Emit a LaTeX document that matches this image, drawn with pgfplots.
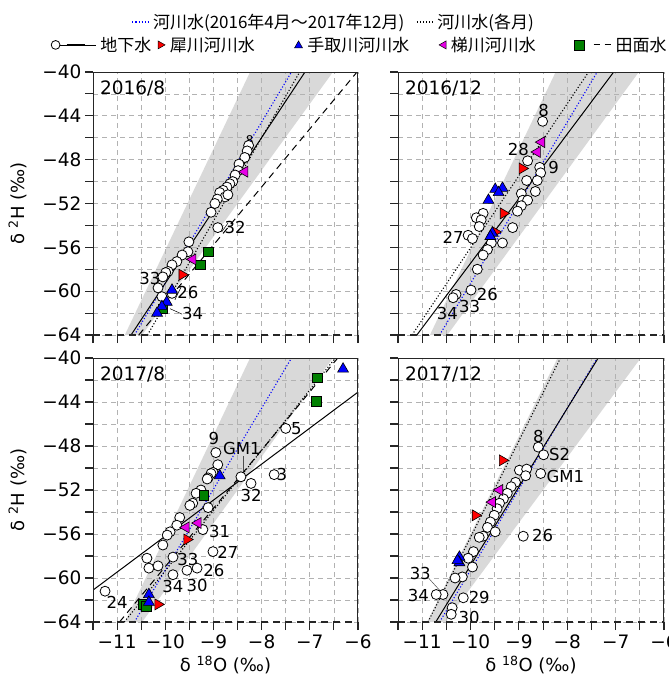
\documentclass[border=0pt]{standalone}
\usepackage{fontspec}
\setmainfont{DejaVu Sans}
\newfontfamily\jp{Noto Sans CJK JP}
\usepackage{pgfplots}
\pgfplotsset{compat=1.18}
\definecolor{dgreen}{RGB}{0,128,0}
\definecolor{mag}{RGB}{230,0,230}
\tikzset{
  lab/.style={font=\fontsize{16.5}{18}\selectfont, inner sep=0pt},
  ttl/.style={font=\fontsize{18.5}{20}\selectfont, inner sep=0pt, anchor=north west},
}
\newcommand{\gap}[1]{\rule{#1}{0pt}}
\newcommand{\back}[1]{\kern-#1\rule{0pt}{0pt}}
\pgfplotsset{
  panel/.style={
    set layers,
    scale only axis, width=265pt, height=263pt,
    xmin=-11.5, xmax=-6, ymin=-64, ymax=-40,
    xtick={-11,-10,...,-6}, minor xtick={-11.5,-10.5,...,-6.5},
    ytick={-64,-60,...,-40}, minor ytick={-62,-58,...,-42},
    xticklabels={−11,−10,−9,−8,−7,−6},
    yticklabels={−64,−60,−56,−52,−48,−44,−40},
    grid=both,
    major grid style={black!30, dash pattern=on 5pt off 4pt, line width=0.7pt},
    minor grid style={black!30, dash pattern=on 5pt off 4pt, line width=0.7pt},
    tick align=outside, major tick length=8pt, minor tick length=8pt,
    xtick pos=left, ytick pos=left,
    tick style={black!85, line width=1.1pt},
    axis line style={draw=none},
    tick label style={font=\fontsize{18.5}{20}\selectfont},
    xticklabel style={yshift=-1pt},
  },
  band/.style={fill=black!15, draw=none, on layer=axis background, forget plot},
  gw/.style={only marks, mark=*, mark size=5pt, mark options={fill=white, draw=black, line width=0.8pt}, forget plot},
  sai/.style={only marks, mark=triangle*, mark size=6.3pt, mark options={rotate=-90, fill=red, draw=black, line width=0.6pt}, forget plot},
  tedo/.style={only marks, mark=triangle*, mark size=6.3pt, mark options={fill=blue, draw=black, line width=0.6pt}, forget plot},
  kake/.style={only marks, mark=triangle*, mark size=6.3pt, mark options={rotate=90, fill=mag, draw=black, line width=0.6pt}, forget plot},
  den/.style={only marks, mark=square*, mark size=4.9pt, mark options={fill=dgreen, draw=black, line width=0.6pt}, forget plot},
  rivall/.style={blue, dotted, line width=1.1pt, forget plot},
  rivmon/.style={black, dotted, line width=1.1pt, forget plot},
  gwline/.style={black, line width=1pt, forget plot},
  denline/.style={black, line width=1pt, dash pattern=on 7pt off 5pt, forget plot},
}
\newcommand{\frameit}{%
  \draw[black!85, line width=1.1pt] (rel axis cs:0,0) -- (rel axis cs:0,1) -- (rel axis cs:1,1) -- (rel axis cs:1,0);
  \draw[black!85, line width=1.1pt, dash pattern=on 7pt off 5pt] (rel axis cs:0,0) -- (rel axis cs:1,0);}
\begin{document}
\begin{tikzpicture}
% ---------------- 2016/8 ----------------
\begin{axis}[panel, at={(93pt,-72pt)}, anchor=north west,
  xticklabels={},
  ylabel={δ \textsuperscript{2}H (‰)},
  ylabel style={font=\fontsize{18}{20}\selectfont, at={(axis description cs:-0.285,0.5)}, anchor=center},
  legend columns=5,
  legend style={draw=none, fill=none, inner sep=0pt, at={(axis description cs:-0.160,1.103)}, anchor=west,
    font=\jp\fontsize{17}{18}\selectfont, /tikz/every even column/.append style={column sep=7.5pt},
    /tikz/every odd column/.append style={column sep=2.5pt}},
]
\addlegendimage{legend image code/.code={
  \path (0pt,0pt) -- (40pt,0pt);
  \draw[black, line width=0.8pt, fill=white] (0pt,0pt) circle (4.4pt);
  \draw[black, line width=1.2pt] (11pt,0pt) -- (29pt,0pt);}}
\addlegendentry{地下水\back{3pt}}
\addlegendimage{legend image code/.code={
  \draw[black, line width=0.5pt, fill=red] (-3pt,4pt) -- (4pt,0pt) -- (-3pt,-4pt) -- cycle;}}
\addlegendentry{犀川河川水\gap{30pt}}
\addlegendimage{legend image code/.code={
  \draw[black, line width=0.5pt, fill=blue] (-4pt,-3pt) -- (4pt,-3pt) -- (0pt,4pt) -- cycle;}}
\addlegendentry{手取川河川水\gap{20pt}}
\addlegendimage{legend image code/.code={
  \draw[black, line width=0.5pt, fill=mag] (3pt,4pt) -- (-4pt,0pt) -- (3pt,-4pt) -- cycle;}}
\addlegendentry{梯川河川水\gap{29pt}}
\addlegendimage{legend image code/.code={
  \draw[black, line width=0.6pt, fill=dgreen] (-5pt,-5pt) rectangle (5pt,5pt);
  \draw[black, line width=1pt, dash pattern=on 6pt off 5pt] (14pt,0pt) -- (31pt,0pt);}}
\addlegendentry{田面水}
\addplot[band] coordinates {(-10.84,-64) (-8.24,-40) (-6.52,-40) (-10.48,-64)} -- cycle;
\addplot[rivall] coordinates {(-10.64,-64) (-7.38,-40)};
\addplot[rivmon] coordinates {(-10.37,-64) (-7.21,-40)};
\addplot[gwline] coordinates {(-10.71,-64) (-7.10,-40)};
\addplot[denline] coordinates {(-10.55,-64) (-6.02,-40)};
\addplot[gw] coordinates {(-8.27,-46.7) (-8.30,-47.2) (-8.35,-47.8) (-8.47,-48.4) (-8.49,-49.0) (-8.55,-49.4) (-8.60,-50.0) (-8.66,-50.2) (-8.72,-50.5) (-8.80,-50.8) (-8.87,-51.0) (-8.76,-51.4) (-8.70,-51.2) (-8.92,-51.6) (-8.97,-52.0) (-9.05,-52.8) (-8.91,-54.2) (-9.51,-55.5) (-9.53,-56.4) (-9.65,-56.7) (-9.76,-57.3) (-9.86,-57.6) (-9.94,-58.2) (-9.99,-58.3) (-10.05,-58.7) (-10.15,-59.7) (-9.86,-60.2) (-10.07,-60.5)};
\addplot[den] coordinates {(-9.11,-56.4) (-9.28,-57.6) (-10.05,-61.6)};
\addplot[kake] coordinates {(-8.35,-49.1) (-9.43,-57.1)};
\addplot[sai] coordinates {(-9.65,-58.5)};
\addplot[tedo] coordinates {(-9.86,-59.9) (-9.97,-61.0) (-10.07,-61.4) (-10.17,-62.0)};
\node[lab] at (axis cs:-8.25,-46.2) {\fontsize{12}{12}\selectfont 8};
\node[lab] at (axis cs:-8.55,-54.2) {32};
\draw[black, line width=0.5pt] (axis cs:-8.83,-54.6) -- (axis cs:-8.7,-53.8);
\node[lab] at (axis cs:-10.32,-58.8) {33};
\node[lab] at (axis cs:-9.53,-60.1) {26};
\draw[black, line width=0.5pt] (axis cs:-9.8,-60.8) -- (axis cs:-9.67,-59.6);
\node[lab] at (axis cs:-9.43,-62.0) {34};
\draw[black, line width=0.5pt] (axis cs:-9.9,-61.6) -- (axis cs:-9.65,-62.1);
\node[ttl] at (rel axis cs:0.026,0.966) {2016/8};
\frameit
\end{axis}
% ---------------- 2016/12 ----------------
\begin{axis}[panel, width=266pt, at={(398pt,-72pt)}, anchor=north west,
  xticklabels={}, yticklabels={},
  legend columns=2,
  legend style={draw=none, fill=none, at={(axis description cs:-0.241,1.19)}, anchor=center,
    font=\jp\fontsize{17}{18}\selectfont, /tikz/every even column/.append style={column sep=10pt},
    /tikz/every odd column/.append style={column sep=1pt}},
]
\addlegendimage{blue, dotted, line width=1.1pt}
\addlegendentry{河川水(2016年4月～2017年12月)}
\addlegendimage{black, dotted, line width=1.1pt}
\addlegendentry{河川水(各月)}
\addplot[band] coordinates {(-10.84,-64) (-8.24,-40) (-6.52,-40) (-10.48,-64)} -- cycle;
\addplot[rivall] coordinates {(-10.64,-64) (-7.38,-40)};
\addplot[rivmon] coordinates {(-11.21,-64) (-7.56,-40)};
\addplot[gwline] coordinates {(-11.11,-64) (-7.04,-40)};
\addplot[gw] coordinates {(-8.51,-44.5) (-8.82,-48.1) (-8.57,-48.7) (-8.55,-49.2) (-8.62,-49.9) (-8.84,-49.9) (-8.66,-50.9) (-8.95,-51.1) (-8.92,-51.7) (-8.82,-51.7) (-8.95,-52.2) (-9.03,-52.7) (-9.13,-54.2) (-9.74,-52.9) (-9.88,-53.3) (-9.78,-53.5) (-9.82,-54.1) (-10.05,-54.9) (-9.96,-55.2) (-9.34,-55.6) (-9.57,-55.6) (-9.65,-56.2) (-9.74,-56.7) (-9.86,-58.0) (-9.99,-59.9) (-10.30,-60.3) (-10.36,-60.6)};
\addplot[kake] coordinates {(-8.53,-46.4) (-8.62,-47.3)};
\addplot[sai] coordinates {(-8.93,-48.8) (-9.32,-52.9) (-9.49,-54.6)};
\addplot[tedo] coordinates {(-9.49,-50.7) (-9.34,-50.6) (-9.42,-51.0) (-9.63,-51.7) (-9.55,-54.7) (-9.59,-55.0)};
\node[lab] at (axis cs:-8.49,-43.5) {8};
\node[lab] at (axis cs:-9.01,-47.1) {28};
\node[lab] at (axis cs:-8.28,-48.7) {9};
\node[lab] at (axis cs:-10.36,-55.1) {27};
\node[lab] at (axis cs:-9.65,-60.3) {26};
\node[lab] at (axis cs:-10.02,-61.4) {33};
\node[lab] at (axis cs:-10.48,-62.0) {34};
\node[ttl] at (rel axis cs:0.026,0.966) {2016/12};
\frameit
\end{axis}
% ---------------- 2017/8 ----------------
\begin{axis}[panel, height=264pt, at={(93pt,-358pt)}, anchor=north west,
  ylabel={δ \textsuperscript{2}H (‰)},
  ylabel style={font=\fontsize{18}{20}\selectfont, at={(axis description cs:-0.285,0.5)}, anchor=center},
  xlabel={δ \textsuperscript{18}O (‰)},
  xlabel style={font=\fontsize{18}{20}\selectfont, at={(axis description cs:0.5,-0.163)}, anchor=center},
]
\addplot[band] coordinates {(-10.84,-64) (-8.24,-40) (-6.52,-40) (-10.48,-64)} -- cycle;
\addplot[rivall] coordinates {(-10.64,-64) (-7.38,-40)};
\addplot[rivmon] coordinates {(-10.85,-64) (-6.47,-40)};
\addplot[denline] coordinates {(-10.95,-64) (-6.42,-40)};
\addplot[gwline] coordinates {(-11.5,-61.1) (-6,-43.1)};
\addplot[gw] coordinates {(-8.95,-48.6) (-8.91,-49.7) (-9.01,-50.4) (-9.05,-50.5) (-9.11,-50.9) (-9.13,-51.0) (-9.26,-52.0) (-9.36,-52.3) (-9.43,-53.2) (-9.49,-53.4) (-9.11,-53.6) (-9.70,-54.5) (-9.76,-55.2) (-9.90,-55.8) (-9.96,-56.1) (-10.05,-57.0) (-9.22,-55.6) (-10.38,-58.2) (-10.34,-59.1) (-10.15,-58.9) (-9.84,-58.1) (-9.84,-59.7) (-9.55,-59.3) (-9.34,-59.1) (-9.01,-57.6) (-11.25,-61.2) (-7.50,-46.4) (-8.43,-50.8) (-8.22,-51.4) (-7.74,-50.6)};
\addplot[den] coordinates {(-6.85,-41.8) (-6.87,-43.9) (-9.20,-52.5) (-10.46,-62.4) (-10.40,-62.6)};
\addplot[kake] coordinates {(-9.57,-55.4) (-9.32,-55.0)};
\addplot[sai] coordinates {(-9.55,-56.5) (-10.15,-62.4)};
\addplot[tedo] coordinates {(-8.87,-50.7) (-6.31,-41.0) (-10.34,-61.5) (-10.34,-62.2)};
\node[lab] at (axis cs:-8.99,-47.3) {9};
\node[lab] at (axis cs:-8.41,-48.2) {GM1};
\draw[black!70, line width=0.5pt] (axis cs:-8.39,-48.9) -- (axis cs:-8.39,-50.3);
\node[lab] at (axis cs:-7.28,-46.4) {5};
\node[lab] at (axis cs:-7.58,-50.6) {3};
\node[lab] at (axis cs:-8.22,-52.5) {32};
\node[lab] at (axis cs:-8.87,-55.8) {31};
\node[lab] at (axis cs:-8.70,-57.7) {27};
\node[lab] at (axis cs:-9.53,-58.3) {33};
\node[lab] at (axis cs:-8.99,-59.3) {26};
\node[lab] at (axis cs:-9.34,-60.7) {30};
\node[lab] at (axis cs:-9.84,-60.8) {34};
\node[lab] at (axis cs:-11.0,-62.2) {24};
\node[ttl] at (rel axis cs:0.026,0.966) {2017/8};
\frameit
\end{axis}
% ---------------- 2017/12 ----------------
\begin{axis}[panel, width=266pt, height=264pt, at={(398pt,-358pt)}, anchor=north west,
  yticklabels={},
  xlabel={δ \textsuperscript{18}O (‰)},
  xlabel style={font=\fontsize{18}{20}\selectfont, at={(axis description cs:0.5,-0.163)}, anchor=center},
]
\addplot[band] coordinates {(-10.9,-64) (-8.2,-40) (-6.48,-40) (-10.52,-64)} -- cycle;
\addplot[rivall] coordinates {(-10.64,-64) (-7.38,-40)};
\addplot[rivmon] coordinates {(-10.88,-64) (-8.14,-40)};
\addplot[gwline] coordinates {(-10.72,-64) (-7.36,-40)};
\addplot[gw] coordinates {(-8.60,-48.1) (-8.49,-48.8) (-8.55,-50.5) (-8.99,-50.2) (-8.84,-50.1) (-8.86,-50.7) (-9.07,-51.3) (-9.16,-51.7) (-9.24,-52.3) (-9.32,-52.8) (-9.40,-53.2) (-9.45,-53.7) (-9.51,-54.3) (-9.59,-54.9) (-9.65,-55.4) (-9.49,-55.8) (-9.74,-56.2) (-9.82,-56.3) (-8.91,-56.2) (-9.94,-57.6) (-10.05,-58.2) (-9.96,-59.0) (-10.17,-59.9) (-10.32,-60.0) (-10.57,-61.5) (-10.71,-61.5) (-10.15,-61.8) (-10.38,-62.7) (-10.40,-63.3)};
\addplot[kake] coordinates {(-9.40,-52.0) (-9.55,-53.1)};
\addplot[sai] coordinates {(-9.34,-49.3) (-9.90,-54.3)};
\addplot[tedo] coordinates {(-10.23,-58.1) (-10.23,-58.6) (-10.27,-58.4)};
\node[lab] at (axis cs:-8.60,-47.1) {8};
\node[lab] at (axis cs:-8.16,-48.8) {S2};
\node[lab] at (axis cs:-8.04,-50.8) {GM1};
\node[lab] at (axis cs:-8.51,-56.1) {26};
\node[lab] at (axis cs:-11.04,-59.6) {33};
\draw[black!70, line width=0.5pt] (axis cs:-10.85,-60.1) -- (axis cs:-10.6,-61.3);
\node[lab] at (axis cs:-11.08,-61.6) {34};
\node[lab] at (axis cs:-9.82,-61.8) {29};
\node[lab] at (axis cs:-10.03,-63.6) {30};
\node[ttl] at (rel axis cs:0.026,0.966) {2017/12};
\frameit
\end{axis}
\pgfresetboundingbox
\useasboundingbox (0pt,0pt) rectangle (669pt,-681pt);
\end{tikzpicture}
\end{document}
